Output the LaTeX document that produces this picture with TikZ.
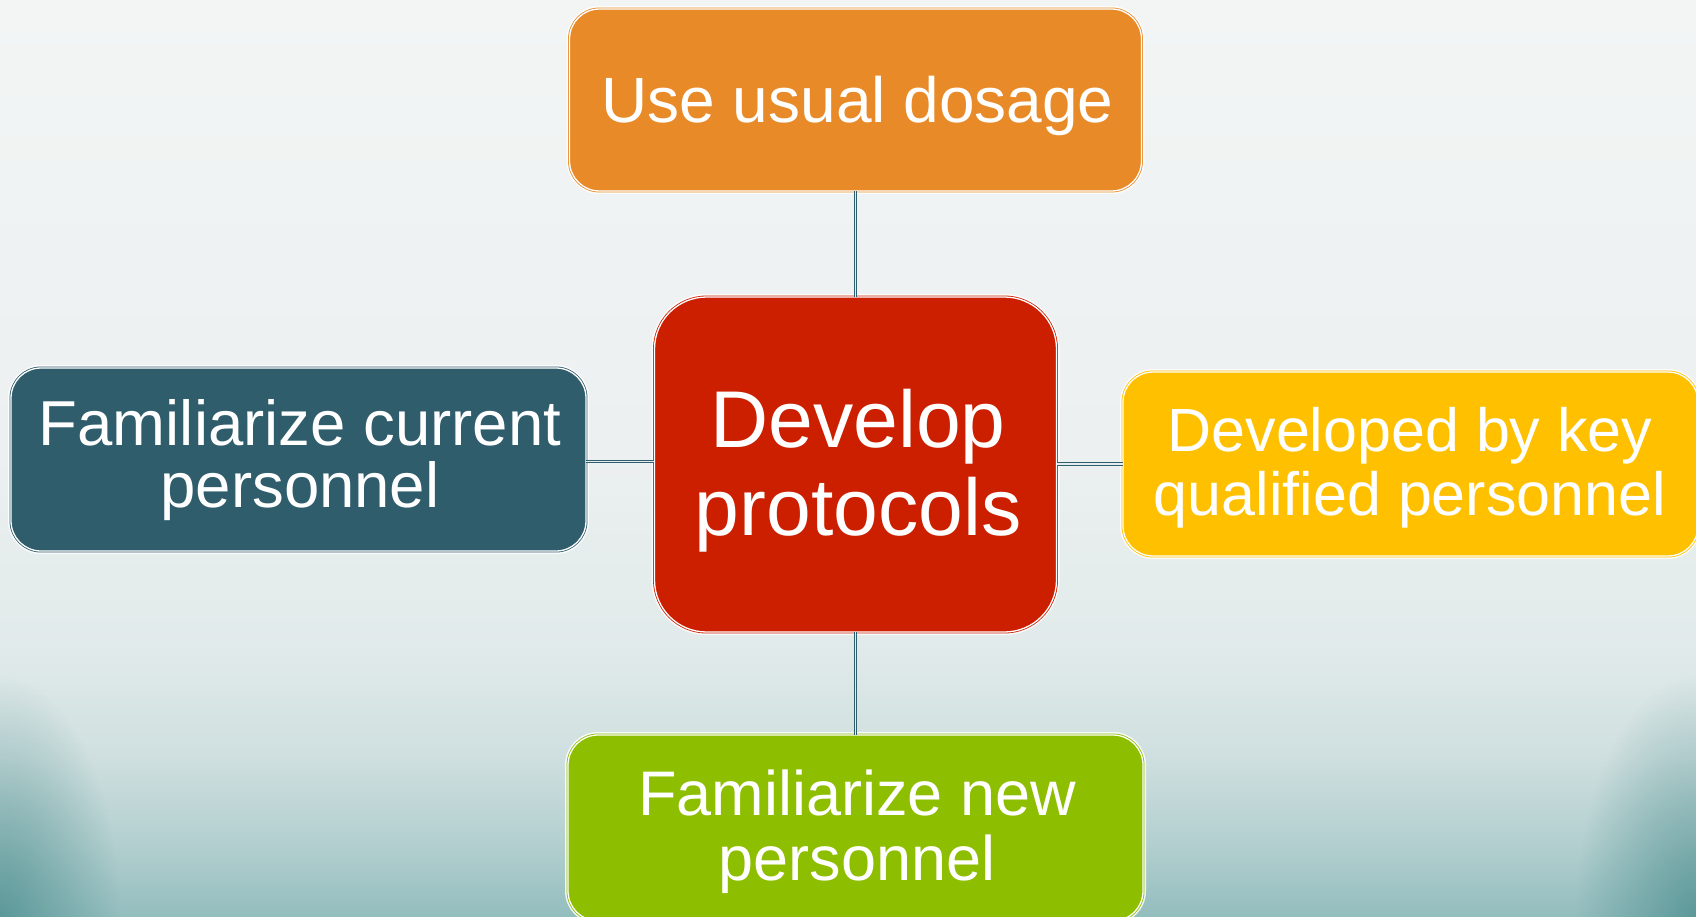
\documentclass[tikz,border=0pt]{standalone}
\usepackage{fontspec}
\setmainfont{Liberation Sans}
\usetikzlibrary{fadings}

% slide background
\definecolor{bgA}{HTML}{93BDBE}
\definecolor{bgB}{HTML}{B3CFCF}
\definecolor{bgC}{HTML}{CFDFDF}
\definecolor{bgD}{HTML}{E1EAEA}
\definecolor{bgE}{HTML}{ECF0F0}
\definecolor{bgF}{HTML}{F3F5F5}
\definecolor{cornerTeal}{HTML}{3F8586}
% box colours
\definecolor{cOrange}{HTML}{E98A28}
\definecolor{cRed}{HTML}{CC1F00}
\definecolor{cSlate}{HTML}{2F5D6C}
\definecolor{cAmber}{HTML}{FFC000}
\definecolor{cLime}{HTML}{8EBE00}
\definecolor{cLink}{HTML}{2E5E6E}
\definecolor{cLinkGap}{HTML}{E4ECEE}

\pgfdeclareverticalshading{slidebg}{100bp}{%
  color(0bp)=(bgA); color(25bp)=(bgA); color(29bp)=(bgB);
  color(33.7bp)=(bgC); color(39.6bp)=(bgD); color(50.5bp)=(bgE);
  color(75bp)=(bgF); color(100bp)=(bgF)}

\tikzfading[name=cornerfade, inner color=transparent!35, outer color=transparent!100]

\begin{document}
\begin{tikzpicture}[
  x=1pt, y=-1pt,
  panel/.style={rectangle, inner sep=0pt, line width=0.8pt,
    draw=#1, fill=#1, double=white, double distance=1.3pt,
    preaction={draw=white, line width=6pt, draw opacity=0.85}},
  boxtext/.style={text=white, align=center, inner sep=0pt},
  link/.style={draw=cLink, line width=1.1pt, double=cLinkGap, double distance=1.4pt}
]
\useasboundingbox (0,0) rectangle (1696,917);
\begin{scope}
  \clip (0,0) rectangle (1696,917);
  % background and darker lower corners
  \shade[shading=slidebg] (0,0) rectangle (1696,917);
  \fill[cornerTeal, path fading=cornerfade] (0,917) ellipse (120 and 240);
  \fill[cornerTeal, path fading=cornerfade] (1696,917) ellipse (120 and 240);

  % boxes
  \node[panel=cOrange, rounded corners=30pt, minimum width=572pt, minimum height=182pt] (dose) at (855.5,100) {};
  \node[panel=cRed, rounded corners=52pt, minimum width=402pt, minimum height=335pt] (hub) at (855.5,464.5) {};
  \node[panel=cSlate, rounded corners=30pt, minimum width=575pt, minimum height=183pt] (curr) at (298.5,459.5) {};
  \node[panel=cAmber, rounded corners=30pt, minimum width=575pt, minimum height=184pt] (qual) at (1410.5,464) {};
  \node[panel=cLime, rounded corners=30pt, minimum width=575pt, minimum height=186pt] (newp) at (855.5,828) {};

  % connectors
  \draw[link] (dose.south) -- (hub.north);
  \draw[link] (hub.south) -- (newp.north);
  \coordinate (lj) at (hub.west |- 0,461.5);
  \draw[link] (curr.east |- lj) -- (lj);
  \coordinate (rj) at (qual.west |- 0,464);
  \draw[link] (hub.east |- rj) -- (rj);

  % texts
  \node[boxtext, font=\fontsize{64}{64}\selectfont] (dosetxt) at (857.5,106) {Use usual dosage};
  \node[boxtext, font=\fontsize{80.5}{88}\selectfont] (hubtxt) at (858,470.7) {Develop\\protocols};
  \node[boxtext, font=\fontsize{63.5}{62}\selectfont] (currtxt) at (300,459.6) {Familiarize current\\personnel};
  \node[boxtext, font=\fontsize{61}{64}\selectfont] (qualtxt) at (1410,468.2) {Developed by key\\qualified personnel};
  \node[boxtext, font=\fontsize{63}{65}\selectfont] (newptxt) at (857,832) {Familiarize new\\personnel};
\end{scope}
\end{tikzpicture}
\end{document}
